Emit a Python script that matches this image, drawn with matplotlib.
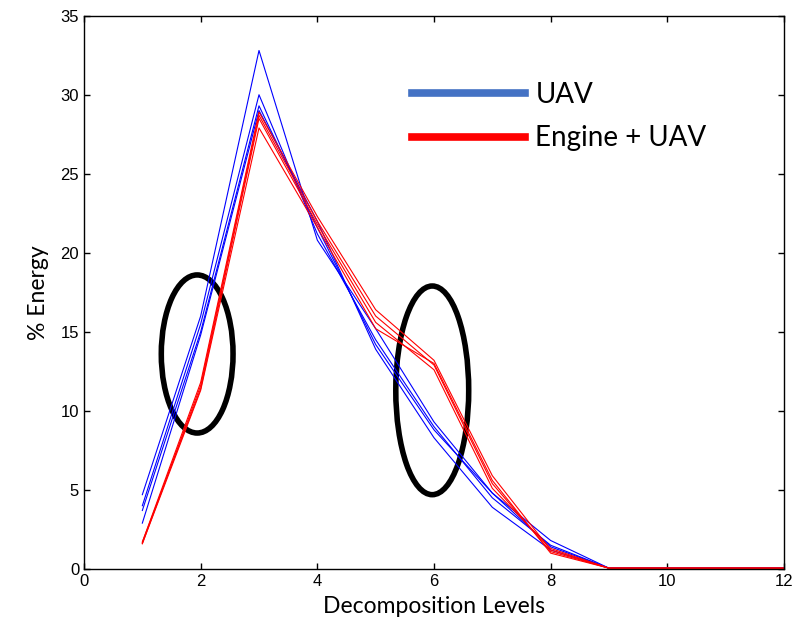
import matplotlib
matplotlib.use("Agg")
import matplotlib.pyplot as plt
from matplotlib.lines import Line2D
from matplotlib.patches import Ellipse

levels = [1, 2, 3, 4, 5, 6, 7, 8, 9, 10, 11, 12]

uav_series = [
    [4.7, 16.0, 32.8, 20.8, 15.2, 9.3, 4.8, 1.8, 0.05, 0.05, 0.05, 0.05],
    [4.0, 15.5, 30.0, 21.2, 14.5, 9.0, 4.5, 1.5, 0.05, 0.05, 0.05, 0.05],
    [3.7, 15.0, 29.3, 21.6, 14.2, 8.8, 4.8, 1.4, 0.05, 0.05, 0.05, 0.05],
    [2.9, 14.8, 29.0, 22.0, 13.9, 8.3, 3.9, 1.2, 0.05, 0.05, 0.05, 0.05],
]
engine_series = [
    [1.7, 11.8, 28.9, 22.3, 16.4, 13.2, 5.9, 1.2, 0.05, 0.05, 0.05, 0.05],
    [1.6, 11.6, 28.7, 22.0, 16.0, 12.9, 5.4, 1.1, 0.05, 0.05, 0.05, 0.05],
    [1.7, 11.4, 28.5, 21.8, 15.6, 12.6, 5.1, 1.3, 0.05, 0.05, 0.05, 0.05],
    [1.6, 11.3, 27.9, 21.6, 15.2, 13.0, 5.6, 1.0, 0.05, 0.05, 0.05, 0.05],
]

# ellipse annotations: (center x, center y, width, height)
ellipses = [(1.94, 13.6, 1.23, 10.0), (5.97, 11.3, 1.25, 13.2)]

legend_labels = ["UAV", "Engine + UAV"]
legend_colors = ["#4472C4", "#FF0000"]

fig = plt.figure(figsize=(8.0, 6.28), dpi=100)
ax = fig.add_axes([0.105, 0.094, 0.875, 0.881])

for s in uav_series:
    ax.plot(levels, s, color="#0000FF", lw=0.8)
for s in engine_series:
    ax.plot(levels, s, color="#FF0000", lw=0.8)

for cx, cy, w, h in ellipses:
    ax.add_patch(Ellipse((cx, cy), w, h, fill=False, edgecolor="black", lw=4.0))

ax.set_xlim(0, 12)
ax.set_ylim(0, 35)
ax.set_xticks(range(0, 13, 2))
ax.set_yticks(range(0, 36, 5))
ax.tick_params(direction="in", top=True, right=True, length=4, width=1,
               labelsize=12)
for lab in ax.get_xticklabels() + ax.get_yticklabels():
    lab.set_family("Liberation Sans")
for sp in ax.spines.values():
    sp.set_linewidth(1.0)

ax.set_xlabel("Decomposition Levels", fontsize=16.5, family="Lato", labelpad=5)
ax.set_ylabel("% Energy", fontsize=16.5, family="Lato", labelpad=8)

handles = [Line2D([], [], color=c, lw=5.5) for c in legend_colors]
ax.legend(handles, legend_labels, frameon=False, loc="center left",
          bbox_to_anchor=(0.469, 0.818), borderpad=0, borderaxespad=0,
          handlelength=4.07, handletextpad=0.36,
          labelspacing=0.64, prop={"family": "Lato", "size": 20})

fig.savefig("out.png", dpi=100)
